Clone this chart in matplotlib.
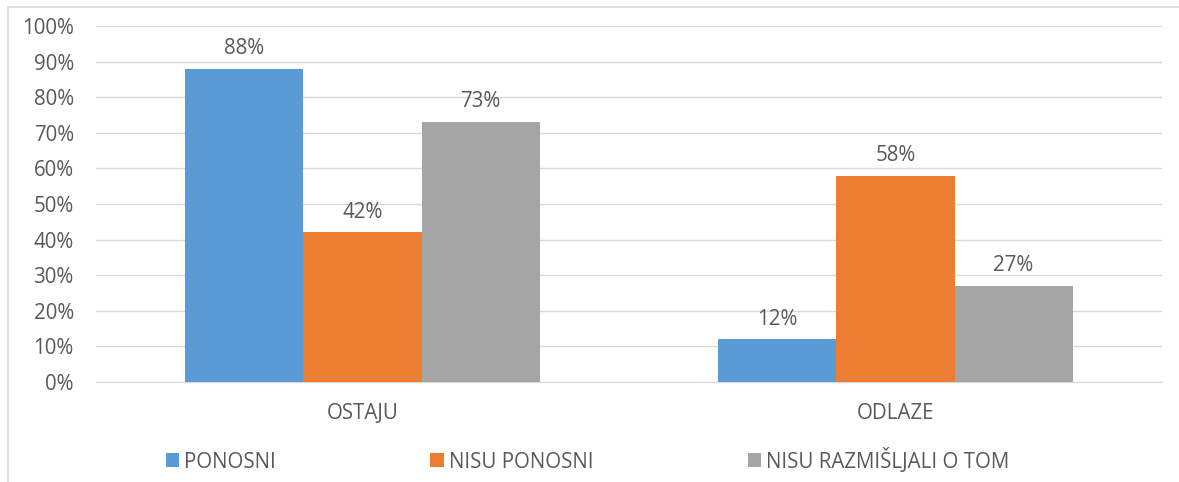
import matplotlib.pyplot as plt
import numpy as np
from matplotlib.patches import Rectangle
from matplotlib.ticker import PercentFormatter

categories = ['OSTAJU', 'ODLAZE']
series = ['PONOSNI', 'NISU PONOSNI', 'NISU RAZMIŠLJALI O TOM']
ponosni = [88, 12]
nisu_ponosni = [42, 58]
nisu_razmisljali = [73, 27]
colors = ['#5B9BD5', '#ED7D31', '#A5A5A5']

plt.rcParams['font.family'] = ['Open Sans', 'DejaVu Sans']
txt = '#595959'
fs = 14.8

fig = plt.figure(figsize=(11.79, 4.82), dpi=100)
ax = fig.add_axes([96 / 1179, 1 - 382 / 482, 1066 / 1179, 356 / 482])

x = np.arange(len(categories))
w = 0.2214
handles = []
for i, (vals, c) in enumerate(zip([ponosni, nisu_ponosni, nisu_razmisljali], colors)):
    b = ax.bar(x + (i - 1) * w, vals, w, color=c, zorder=3)
    handles.append(b)
    for rect, v in zip(b, vals):
        ax.annotate(f'{v}%', (rect.get_x() + rect.get_width() / 2, v),
                    xytext=(0, 7), textcoords='offset points',
                    ha='center', va='bottom', fontsize=fs, color=txt)

ax.set_xlim(-0.5, 1.5)
ax.set_ylim(0, 100)
ax.set_yticks(range(0, 101, 10))
ax.yaxis.set_major_formatter(PercentFormatter(decimals=0))
ax.set_xticks(x)
ax.set_xticklabels(categories)
ax.grid(axis='y', color='#D9D9D9', lw=1, zorder=0)
for s in ['top', 'right', 'left']:
    ax.spines[s].set_visible(False)
ax.spines['bottom'].set_color('#D9D9D9')
ax.tick_params(axis='both', length=0, labelsize=fs, colors=txt)
ax.tick_params(axis='y', pad=16)
ax.tick_params(axis='x', pad=15)

leg = fig.legend(handles, series, loc='center left', bbox_to_anchor=(166 / 1179, 1 - 460 / 482),
                 ncol=3, frameon=False, fontsize=fs, handlelength=0.65, handleheight=0.65,
                 handletextpad=0.25, columnspacing=7.5, borderaxespad=0, borderpad=0)
for t in leg.get_texts():
    t.set_color(txt)

fig.patches.append(Rectangle((8 / 1179, -0.1), 1.2, 1 - 7 / 482 + 0.1, transform=fig.transFigure,
                             fill=False, edgecolor='#D9D9D9', lw=1.2))

fig.savefig('out.png', dpi=100)
